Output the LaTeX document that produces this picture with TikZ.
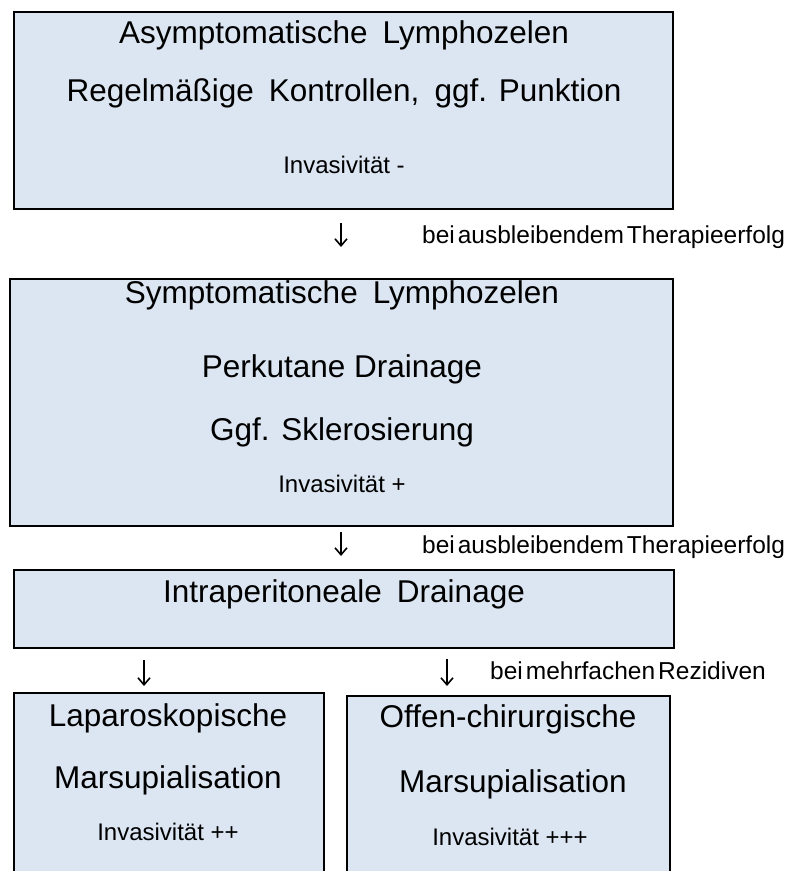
\documentclass[tikz,border=0pt]{standalone}
\usepackage{fontspec}
\setmainfont{Liberation Sans}
\usetikzlibrary{arrows.meta}
\definecolor{boxfill}{HTML}{DCE6F2}
\newcommand{\tsp}{\hspace{3pt}}
\begin{document}
\begin{tikzpicture}[x=1pt,y=-1pt,
  box/.style={draw=black,line width=2.5pt,fill=boxfill},
  big/.style={anchor=base,inner sep=0pt,font=\fontsize{31.5}{36}\selectfont},
  small/.style={anchor=base,inner sep=0pt,font=\fontsize{24}{28}\selectfont},
  lab/.style={anchor=base west,inner sep=0pt,font=\fontsize{24.5}{28}\selectfont},
  darrow/.style={line width=1.3pt,-{Straight Barb[length=7pt,width=12pt,line width=1.6pt]}}]
\useasboundingbox (0,0) rectangle (793,871);
\clip (0,0) rectangle (793,871);
% boxes
\draw[box] (14,12) rectangle (673,209);
\draw[box] (10,279) rectangle (673,526);
\draw[box] (14,570) rectangle (674,648);
\draw[box] (14,693) rectangle (324,890);
\draw[box] (347,696) rectangle (670,890);
% box 1
\node[big] (t1a) at (344,43) {Asymptomatische\hspace{0.2em} Lymphozelen};
\node[big] (t1b) at (344,101) {Regelmäßige\hspace{0.2em} Kontrollen,\hspace{0.2em} ggf. Punktion};
\node[small] (t1c) at (344,173) {Invasivität -};
% arrow 1
\coordinate (a1s) at (341,223);
\coordinate (a1e) at (341,247);
\draw[darrow] (a1s) -- (a1e);
\node[lab] (l1) at (422,243) {bei\tsp ausbleibendem\tsp Therapieerfolg};
% box 2
\node[big] (t2a) at (342,303) {Symptomatische\hspace{0.2em} Lymphozelen};
\node[big] (t2b) at (342,377) {Perkutane Drainage};
\node[big] (t2c) at (342,440) {Ggf. Sklerosierung};
\node[small] (t2d) at (342,492) {Invasivität +};
% arrow 2
\coordinate (a2s) at (341,532);
\coordinate (a2e) at (341,556);
\draw[darrow] (a2s) -- (a2e);
\node[lab] (l2) at (422,553) {bei\tsp ausbleibendem\tsp Therapieerfolg};
% box 3
\node[big] (t3a) at (344,602) {Intraperitoneale\hspace{0.2em} Drainage};
% arrows 3 and 4
\coordinate (a3s) at (144,660);
\coordinate (a3e) at (144,686);
\draw[darrow] (a3s) -- (a3e);
\coordinate (a4s) at (447,659);
\coordinate (a4e) at (447,686);
\draw[darrow] (a4s) -- (a4e);
\node[lab] (l3) at (490,679) {bei\tsp mehrfachen\tsp Rezidiven};
% box 4
\node[big] (t4a) at (168,726) {Laparoskopische};
\node[big] (t4b) at (168,788) {Marsupialisation};
\node[small] (t4c) at (168,840) {Invasivität ++};
% box 5
\node[big] (t5a) at (508,727) {Offen-chirurgische};
\node[big] (t5b) at (513,792) {Marsupialisation};
\node[small] (t5c) at (510,845) {Invasivität +++};
\end{tikzpicture}
\end{document}
